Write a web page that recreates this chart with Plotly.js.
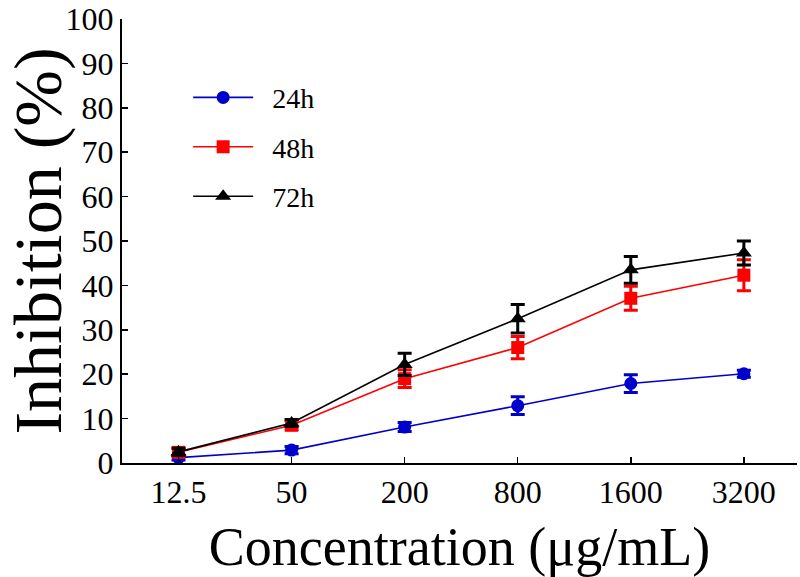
<!DOCTYPE html>
<html>
<head>
<meta charset="utf-8">
<script src="https://cdn.plot.ly/plotly-3.0.1.min.js"></script>
<style>
  html, body { margin: 0; padding: 0; background: #fff; }
  #chart { width: 800px; height: 577px; }
</style>
</head>
<body>
<div id="chart"></div>
<script>
// concentrations (µg/mL), shown as evenly spaced categories
const concentrations = ['12.5', '50', '200', '800', '1600', '3200'];

// inhibition (%)
const inh24 = [1.2, 2.9, 8.1, 12.9, 17.9, 20.1];
const err24 = [0.5, 0.8, 1.0, 2.0, 2.0, 0.8];
const inh48 = [2.4, 8.5, 19.0, 26.0, 37.1, 42.3];
const err48 = [1.0, 1.0, 2.0, 2.5, 2.7, 3.5];
const inh72 = [2.5, 9.0, 22.2, 32.5, 43.5, 47.3];
const err72 = [0.8, 0.8, 2.5, 3.2, 3.0, 2.7];

const FONT = '"Liberation Serif", "Times New Roman", serif';
const GAP = '\u00a0\u00a0';  // pushes legend text away from the symbol

function series(name, y, err, color, symbol, size, group) {
    return {
        x: concentrations, y: y, name: GAP + name, type: 'scatter', mode: 'lines+markers',
        legendgroup: group,
        line: { color: color, width: 1.6 },
        marker: { color: color, symbol: symbol, size: size },
        error_y: { type: 'data', array: err, visible: true, color: color, thickness: 3, width: 7 }
    };
}

const traces = [
    series('24h', inh24, err24, '#0000cc', 'circle', 13, 'g1'),
    series('48h', inh48, err48, '#ff0000', 'square', 13, 'g2'),
    series('72h', inh72, err72, '#000000', 'triangle-up', 14, 'g3')
];

const layout = {
    width: 800, height: 577,
    margin: { l: 122, r: 3, t: 19, b: 114 },
    paper_bgcolor: '#fff', plot_bgcolor: '#fff',
    font: { family: FONT, color: '#000' },
    showlegend: true,
    legend: {
        x: 0.098, y: 0.879, xanchor: 'left', yanchor: 'top',
        font: { family: FONT, size: 28 },
        itemwidth: 60,
        tracegroupgap: 10, bgcolor: 'rgba(0,0,0,0)'
    },
    xaxis: {
        type: 'category', range: [-0.5, 5.47],
        showline: true, linecolor: '#000', linewidth: 2,
        ticks: 'inside', ticklen: 6, tickcolor: '#000', tickwidth: 1.5,
        showgrid: false, zeroline: false,
        tickfont: { family: FONT, size: 32 },
        ticklabelstandoff: 0,
        title: { text: 'Concentration (μg/mL)', font: { family: FONT, size: 54 }, standoff: 20 }
    },
    yaxis: {
        range: [0, 100], dtick: 10,
        showline: true, linecolor: '#000', linewidth: 2,
        ticks: 'inside', ticklen: 6, tickcolor: '#000', tickwidth: 1.5,
        showgrid: false, zeroline: false,
        ticklabeloverflow: 'allow',
        tickfont: { family: FONT, size: 32 },
        title: { text: 'Inhibition (%)', font: { family: FONT, size: 68 }, standoff: 22 }
    }
};

Plotly.newPlot('chart', traces, layout, { displayModeBar: false, staticPlot: true });
</script>
</body>
</html>
